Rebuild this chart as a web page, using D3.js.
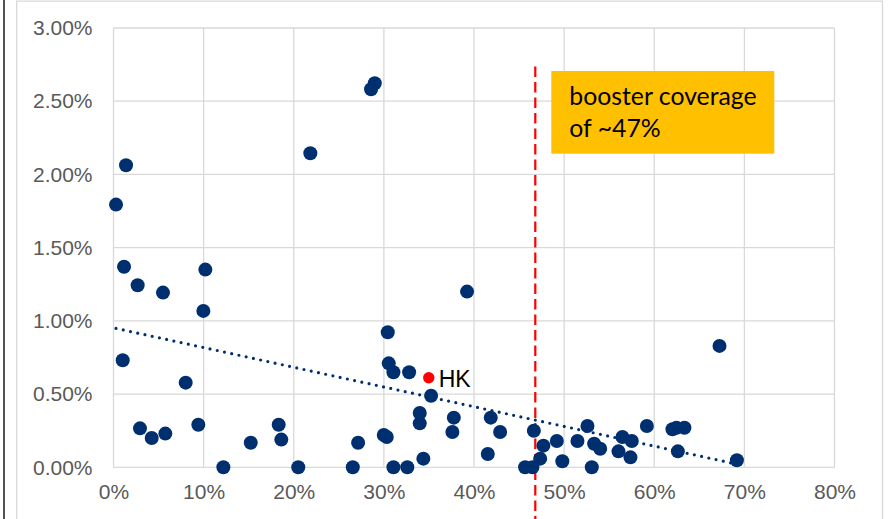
<!DOCTYPE html>
<html>
<head>
<meta charset="utf-8">
<script src="https://cdn.jsdelivr.net/npm/d3@7"></script>
<style>
  html, body { margin: 0; padding: 0; background: #fff; }
  svg { display: block; }
</style>
</head>
<body>
<svg id="chart" width="892" height="519"></svg>
<script>
// Booster coverage (share of population) vs. rate, one point per place
const boosterCoverage = [
  0.0028, 0.0139, 0.0117, 0.0268, 0.0549, 0.1019, 0.0997, 0.0102, 0.0801, 0.0294,
  0.0424, 0.0575, 0.0941, 0.1219, 0.1523, 0.1833, 0.1862, 0.2050, 0.2184, 0.2858,
  0.2899, 0.2655, 0.2714, 0.2999, 0.3032, 0.3043, 0.3054, 0.3106, 0.3106, 0.3260,
  0.3280, 0.3398, 0.3398, 0.3438, 0.3524, 0.3776, 0.3760, 0.3923, 0.4153, 0.4186,
  0.4290, 0.4567, 0.4648, 0.4664, 0.4734, 0.4770, 0.4919, 0.4980, 0.5148, 0.5259,
  0.5307, 0.5333, 0.5400, 0.5603, 0.5647, 0.5736, 0.5751, 0.5918, 0.6202, 0.6246,
  0.6335, 0.6262, 0.6724, 0.6917
];
const rate = [
  0.01794, 0.02063, 0.01370, 0.01243, 0.01193, 0.01350, 0.01068, 0.00731, 0.00578, 0.00266,
  0.00200, 0.00230, 0.00291, 0.00000, 0.00168, 0.00291, 0.00189, 0.00000, 0.02145, 0.02582,
  0.02623, 0.00000, 0.00168, 0.00221, 0.00207, 0.00922, 0.00710, 0.00649, 0.00000, 0.00000,
  0.00649, 0.00371, 0.00300, 0.00059, 0.00489, 0.00339, 0.00241, 0.01200, 0.00091, 0.00339,
  0.00241, 0.00000, 0.00000, 0.00250, 0.00059, 0.00148, 0.00180, 0.00041, 0.00180, 0.00282,
  0.00000, 0.00161, 0.00127, 0.00109, 0.00207, 0.00068, 0.00180, 0.00282, 0.00260, 0.00270,
  0.00270, 0.00109, 0.00829, 0.00048
];

// Highlighted place
const highlightName = ["HK"];
const highlightCoverage = [0.3498];
const highlightRate = [0.00612];

// Reference coverage level and its note
const referenceCoverage = [0.468];
const noteLines = ["booster coverage", "of ~47%"];

// Axis ticks
const xTicks = [0, 0.1, 0.2, 0.3, 0.4, 0.5, 0.6, 0.7, 0.8];
const yTicks = [0, 0.005, 0.01, 0.015, 0.02, 0.025, 0.03];

const svg = d3.select("#chart");
const W = 892, H = 519;

// Outer frame
svg.append("line").attr("x1", 4).attr("x2", 4).attr("y1", 0).attr("y2", H)
  .attr("stroke", "#262626").attr("stroke-width", 1.6);
svg.append("path")
  .attr("d", `M16.7,${H} V1.2 H882.5 V${H}`)
  .attr("fill", "none").attr("stroke", "#d9d9d9").attr("stroke-width", 1.3);

const x = d3.scaleLinear().domain([0, 0.8]).range([113.5, 834.5]);
const y = d3.scaleLinear().domain([0, 0.03]).range([467.3, 28]);

const grid = svg.append("g").attr("stroke", "#d9d9d9").attr("stroke-width", 1.3);
grid.selectAll("line.h").data(yTicks).join("line").attr("class", "h")
  .attr("x1", x(0)).attr("x2", x(0.8))
  .attr("y1", d => y(d)).attr("y2", d => y(d));
grid.selectAll("line.v").data(xTicks).join("line").attr("class", "v")
  .attr("x1", d => x(d)).attr("x2", d => x(d))
  .attr("y1", y(0)).attr("y2", y(0.03));

// Axes (labels only; lines come from the grid)
const pctX = d3.format(".0%");
const pctY = d3.format(".2%");
const xAxis = svg.append("g").attr("transform", `translate(0,${y(0)})`)
  .call(d3.axisBottom(x).tickValues(xTicks).tickFormat(pctX).tickSize(0).tickPadding(17));
const yAxis = svg.append("g").attr("transform", `translate(${x(0)},0)`)
  .call(d3.axisLeft(y).tickValues(yTicks).tickFormat(pctY).tickSize(0).tickPadding(21));
[xAxis, yAxis].forEach(a => {
  a.select(".domain").remove();
  a.selectAll("text").attr("font-family", "'Liberation Sans', Arial, sans-serif")
    .attr("font-size", 21).attr("fill", "#595959");
});

// Linear trendline (least squares) over the data range
const pts = boosterCoverage.map((c, i) => [c, rate[i]]);
const mx = d3.mean(pts, p => p[0]), my = d3.mean(pts, p => p[1]);
const slope = d3.sum(pts, p => (p[0] - mx) * (p[1] - my)) / d3.sum(pts, p => (p[0] - mx) ** 2);
const intercept = my - slope * mx;
const [x0, x1] = d3.extent(boosterCoverage);
svg.append("line")
  .attr("x1", x(x0)).attr("y1", y(intercept + slope * x0))
  .attr("x2", x(x1)).attr("y2", y(intercept + slope * x1))
  .attr("stroke", "#002f6f").attr("stroke-width", 3.2)
  .attr("stroke-linecap", "round").attr("stroke-dasharray", "0 7.4");

// Reference line
svg.append("line")
  .attr("x1", x(referenceCoverage[0])).attr("x2", x(referenceCoverage[0]))
  .attr("y1", 66.5).attr("y2", H)
  .attr("stroke", "#ff0000").attr("stroke-width", 2.2).attr("stroke-dasharray", "10.5 5");

// Points
svg.append("g").selectAll("circle").data(pts).join("circle")
  .attr("cx", d => x(d[0])).attr("cy", d => y(d[1])).attr("r", 7)
  .attr("fill", "#002f6f");

// Highlighted point and label
svg.append("circle")
  .attr("cx", x(highlightCoverage[0])).attr("cy", y(highlightRate[0])).attr("r", 5.7)
  .attr("fill", "#ff0000");
svg.append("text")
  .attr("x", x(highlightCoverage[0]) + 10).attr("y", y(highlightRate[0]) + 9)
  .attr("font-family", "'Liberation Sans', Arial, sans-serif").attr("font-size", 23)
  .attr("fill", "#000").text(highlightName[0]);

// Note box
const boxX = x(referenceCoverage[0]) + 16;
svg.append("rect").attr("x", boxX).attr("y", 71).attr("width", 223).attr("height", 82.7)
  .attr("fill", "#ffc000");
svg.append("g").selectAll("text").data(noteLines).join("text")
  .attr("x", boxX + 18).attr("y", (d, i) => 105 + i * 31.7)
  .attr("font-family", "Lato, 'Open Sans', sans-serif").attr("font-size", 24.8)
  .attr("fill", "#000").text(d => d);
</script>
</body>
</html>
